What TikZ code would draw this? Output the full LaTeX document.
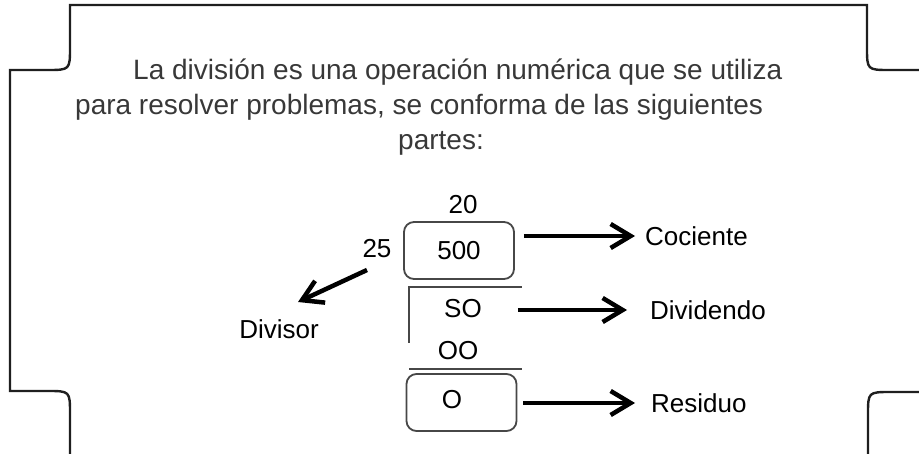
\documentclass[tikz,border=0pt]{standalone}
\usepackage{fontspec}
\setmainfont{Liberation Sans}
\usetikzlibrary{arrows.meta}

\begin{document}
\begin{tikzpicture}[x=1pt, y=-1pt,
        frame/.style = {line width=2.4pt, draw=black!88},
        para/.style = {font=\fontsize{28}{33}\selectfont, text=black!78, inner sep=0pt, anchor=base west},
        lbl/.style = {font=\fontsize{26}{30}\selectfont, inner sep=0pt},
        numbox/.style = {lbl, draw=black!72, line width=1.8pt, rounded corners=10pt, minimum width=110pt, minimum height=57pt},
        rule/.style = {draw=black!72, line width=1.8pt},
        arr/.style = {line width=4.5pt, -{Straight Barb[length=20pt, width=24pt, line width=4.5pt]}}]
        \useasboundingbox (0,0) rectangle (919,454);
        
        \draw[frame] (70,454) -- (70,414) .. controls (70,391) .. (47,391) -- (10,391) -- (10,70) -- (47,70) .. controls (70,70) .. (70,47) -- (70,5) -- (867,5) -- (867,47) .. controls (867,70) .. (890,70) -- (919,70);
        \draw[frame] (919,392) -- (891,392) .. controls (868,392) .. (868,415) -- (868,454);
        
        \node (l1) [para] at (133,80) {La división es una operación numérica que se utiliza};
        \node (l2) [para] at (75,115) {para resolver problemas, se conforma de las siguientes};
        \node (l3) [para, anchor=base] at (441,150) {partes:};
        
        \node (quot) [lbl] at (463,205) {20};
        \node (qbox) [numbox] at (459,250.5) {500};
        \node (dvs) [lbl] at (377,249) {25};
        \node (so) [lbl] at (463,309) {SO};
        \node (oo) [lbl] at (458,351) {OO};
        \node (rbox) [numbox] at (461.5,402.5) {};
        \node (res) [lbl] at (452,400) {O};
        
        \node (cocl) [lbl, anchor=west] at (645,236) {Cociente};
        \node (divl) [lbl, anchor=west] at (650,310) {Dividendo};
        \node (resl) [lbl, anchor=west] at (651,403) {Residuo};
        \node (dvsl) [lbl] at (279,329) {Divisor};
        
        \draw[rule] (409,343) -- (409,287) -- (522,287);
        \draw[rule] (409,369) -- (522,369);
        
        \coordinate (dtail) at (367,270);
        \coordinate (dtip) at (298,302);
        
        \draw[arr, shorten <=9pt, shorten >=10pt] (qbox.east |- cocl.west) -- (cocl.west);
        \draw[arr, shorten <=3pt, shorten >=23pt] (qbox.east |- divl.west) -- (divl.west);
        \draw[arr, shorten <=6pt, shorten >=16pt] (rbox.east |- resl.west) -- (resl.west);
        \draw[arr] (dtail) -- (dtip);
\end{tikzpicture}
\end{document}
